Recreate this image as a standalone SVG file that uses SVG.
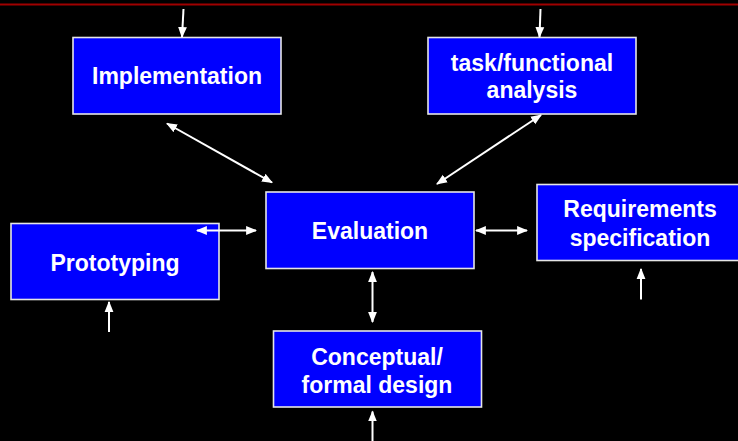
<svg xmlns="http://www.w3.org/2000/svg" width="738" height="441" viewBox="0 0 738 441">
<style>
.box{fill:#0000ff;stroke:#e6e6e6;stroke-width:1.6}
.lbl{font-family:"Liberation Sans",Arial,sans-serif;font-weight:bold;font-size:23px;fill:#ffffff;text-anchor:middle}
.con{stroke:#ffffff;stroke-width:2;fill:none}
</style>
<defs>
<marker id="ah" markerUnits="userSpaceOnUse" markerWidth="11" markerHeight="10" viewBox="0 0 10 8" refX="9" refY="4" orient="auto-start-reverse">
<path d="M0,0 L10,4 L0,8 z" fill="#ffffff"/>
</marker>
</defs>
<rect x="0" y="0" width="738" height="441" fill="#000000"/>
<line x1="0" y1="4.5" x2="738" y2="4.5" stroke="#a00000" stroke-width="2"/>
<g id="implementation">
<rect class="box" x="73" y="37.5" width="208" height="76.5"/>
<text class="lbl" x="177" y="84">Implementation</text>
</g>
<g id="task-analysis">
<rect class="box" x="428" y="37.5" width="208" height="76.5"/>
<text class="lbl" x="532" y="71">task/functional</text>
<text class="lbl" x="532" y="97.5">analysis</text>
</g>
<g id="evaluation">
<rect class="box" x="266" y="192" width="208" height="76.5"/>
<text class="lbl" x="370" y="239">Evaluation</text>
</g>
<g id="prototyping">
<rect class="box" x="11" y="223.5" width="208" height="76"/>
<text class="lbl" x="115" y="270.5">Prototyping</text>
</g>
<g id="requirements">
<rect class="box" x="537" y="184.5" width="208" height="76"/>
<text class="lbl" x="640" y="217">Requirements</text>
<text class="lbl" x="640" y="245.5">specification</text>
</g>
<g id="conceptual">
<rect class="box" x="273.5" y="331" width="208" height="76"/>
<text class="lbl" x="377" y="364.5">Conceptual/</text>
<text class="lbl" x="377" y="392.5">formal design</text>
</g>
<g id="connectors">
<line class="con" x1="183.5" y1="9" x2="182" y2="37" marker-end="url(#ah)"/>
<line class="con" x1="540.5" y1="9" x2="539.5" y2="37" marker-end="url(#ah)"/>
<line class="con" x1="167" y1="123.5" x2="272" y2="182.5" marker-start="url(#ah)" marker-end="url(#ah)"/>
<line class="con" x1="541" y1="115" x2="437" y2="184" marker-start="url(#ah)" marker-end="url(#ah)"/>
<line class="con" x1="197" y1="230.5" x2="256" y2="230.5" marker-start="url(#ah)" marker-end="url(#ah)"/>
<line class="con" x1="476" y1="230.5" x2="527" y2="230.5" marker-start="url(#ah)" marker-end="url(#ah)"/>
<line class="con" x1="372.5" y1="272" x2="372.5" y2="322" marker-start="url(#ah)" marker-end="url(#ah)"/>
<line class="con" x1="109" y1="332" x2="109" y2="302" marker-end="url(#ah)"/>
<line class="con" x1="641" y1="299.5" x2="641" y2="269" marker-end="url(#ah)"/>
<line class="con" x1="372.5" y1="441" x2="372.5" y2="411.5" marker-end="url(#ah)"/>
</g>
</svg>
